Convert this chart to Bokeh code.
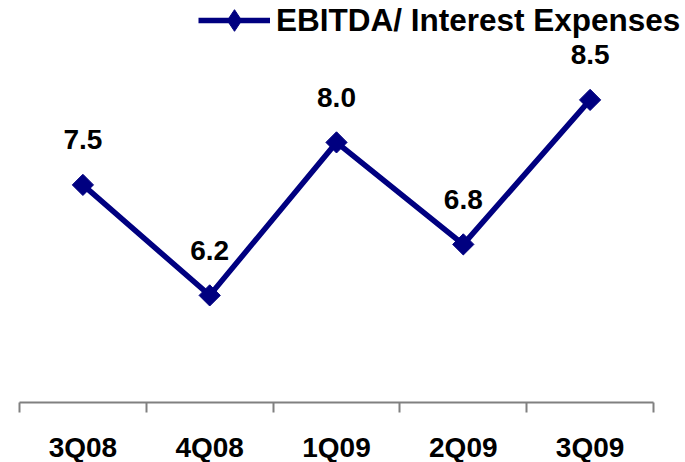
import numpy as np
from bokeh.plotting import figure
from bokeh.models import Range1d, FixedTicker, Legend, LegendItem, ColumnDataSource
from bokeh.core.properties import value
from bokeh.embed import file_html
from bokeh.resources import INLINE

# Quarterly coverage ratio
quarters = ["3Q08", "4Q08", "1Q09", "2Q09", "3Q09"]
ratios = [7.5, 6.2, 8.0, 6.8, 8.5]
series_name = "EBITDA/ Interest Expenses"

NAVY = "#000080"
FONT = "Liberation Sans"

W, H = 685, 462
# pixel layout of the category strip and value scale
LEFT_PX, RIGHT_PX = 19, 653
AXIS_PX = 402            # axis line, measured from the top
PX_PER_UNIT = 85.0
AXIS_VALUE = 4.94

n = len(quarters)
px_per_cat = (RIGHT_PX - LEFT_PX) / n
x_start = -LEFT_PX / px_per_cat
x_end = n + (W - RIGHT_PX) / px_per_cat
y_start = AXIS_VALUE - (H - AXIS_PX) / PX_PER_UNIT
y_end = AXIS_VALUE + AXIS_PX / PX_PER_UNIT

# categories sit at the middle of unit-wide slots; ticks mark the slot edges
centers = [i + 0.5 for i in range(n)]
edges = list(range(n + 1))

src = ColumnDataSource(dict(
    x=centers,
    y=ratios,
    label=[f"{v:.1f}" for v in ratios],
))

p = figure(
    width=W, height=H,
    x_range=Range1d(x_start, x_end),
    y_range=Range1d(y_start, y_end),
    output_backend="svg", toolbar_location=None,
    y_axis_location=None,
    min_border=0,
)
p.outline_line_color = None
p.grid.visible = False
p.background_fill_color = "white"
p.border_fill_color = "white"

line_r = p.line("x", "y", source=src, line_color=NAVY, line_width=5.5,
                line_join="miter")
# zero-size diamonds: invisible on the chart, they give the legend its swatch
key_r = p.scatter("x", "y", source=src, marker="diamond", size=0,
                  fill_color=NAVY, line_color=NAVY)
p.scatter("x", "y", source=src, marker="square", size=15,
          angle=np.pi / 4, fill_color=NAVY, line_color=NAVY)

p.text("x", "y", text="label", source=src,
       text_font=value(FONT), text_font_style="bold", text_font_size="28px",
       text_color="black", text_align="center", text_baseline="alphabetic",
       y_offset=-45)

ax = p.xaxis[0]
ax.fixed_location = AXIS_VALUE
ax.bounds = (0, n)
ax.ticker = FixedTicker(ticks=centers, minor_ticks=edges)
ax.major_label_overrides = {c: q for c, q in zip(centers, quarters)}
ax.major_tick_in = 0
ax.major_tick_out = 0
ax.minor_tick_in = 0
ax.minor_tick_out = 10
ax.minor_tick_line_color = "#808080"
ax.minor_tick_line_width = 2
ax.axis_line_color = "#808080"
ax.axis_line_width = 2
ax.major_label_standoff = 19
ax.major_label_text_font = FONT
ax.major_label_text_font_style = "bold"
ax.major_label_text_font_size = "28px"
ax.major_label_text_color = "black"

legend = Legend(
    items=[LegendItem(label=series_name, renderers=[line_r, key_r])],
    location=(198, H - 20 - 27),
    orientation="horizontal",
    padding=0, margin=0, spacing=0,
    glyph_width=72, glyph_height=54,
    label_height=54, label_standoff=6,
    label_text_font=FONT, label_text_font_style="bold",
    label_text_font_size="31.5px", label_text_color="black",
    border_line_color=None, background_fill_alpha=0,
)
p.add_layout(legend)

open("out.html", "w").write(file_html(p, INLINE))
